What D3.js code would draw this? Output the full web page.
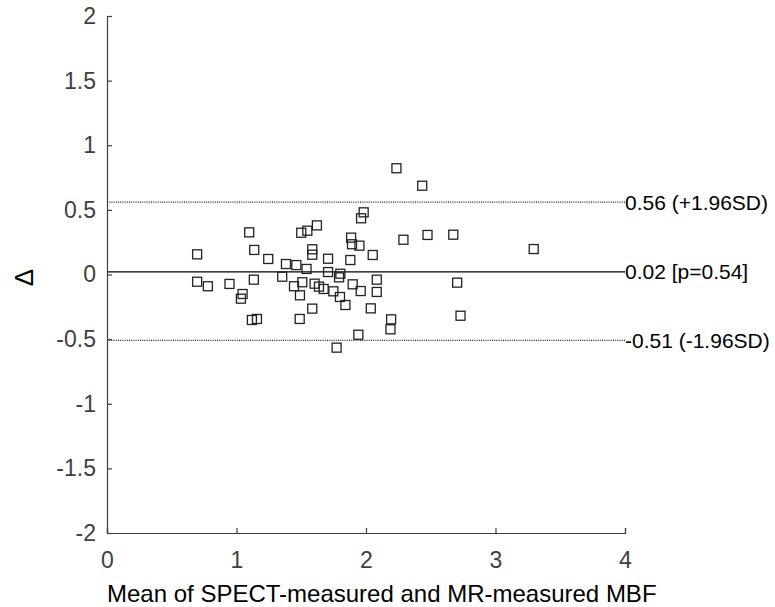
<!DOCTYPE html>
<html>
<head>
<meta charset="utf-8">
<script src="https://cdn.jsdelivr.net/npm/d3@7"></script>
<style>
  body { margin: 0; background: #fff; }
  text { font-family: "Liberation Sans", Arial, sans-serif; }
</style>
</head>
<body>
<div id="chart"></div>
<script>
var w = 775,
  h = 607;
var margin = { left: 107, top: 16, right: 150, bottom: 74 };

// mean of the two measurements (x) and their difference (y)
var meanMBF = [
  0.696, 0.696, 0.779, 0.946, 1.047, 1.034, 1.098, 1.137, 1.134, 1.119,
  1.158, 1.245, 1.353, 1.382, 1.462, 1.444, 1.508, 1.490, 1.488, 1.500,
  1.547, 1.621, 1.585, 1.585, 1.541, 1.603, 1.637, 1.673, 1.585, 1.707,
  1.707, 1.748, 1.773, 2.235, 2.434, 1.982, 1.962, 1.885, 1.892, 1.949,
  2.289, 2.475, 2.674, 3.295, 2.052, 1.879, 1.802, 1.792, 2.083, 1.897,
  1.959, 2.083, 2.704, 2.730, 1.799, 1.841, 2.037, 2.194, 2.189, 1.941
];
var diffMBF = [
  0.156, -0.056, -0.091, -0.073, -0.151, -0.187, 0.326, 0.190, -0.040, -0.352,
  -0.344, 0.120, -0.017, 0.081, 0.073, -0.091, -0.060, -0.161, -0.344, 0.323,
  0.339, 0.380, 0.195, 0.153, 0.043, -0.071, -0.094, -0.112, -0.264, 0.122,
  0.019, -0.130, -0.566, 0.822, 0.687, 0.481, 0.435, 0.285, 0.234, 0.223,
  0.269, 0.306, 0.308, 0.197, 0.151, 0.112, 0.006, -0.022, -0.040, -0.076,
  -0.128, -0.135, -0.063, -0.319, -0.174, -0.236, -0.262, -0.347, -0.424, -0.466
];

var xTicks = [0, 1, 2, 3, 4];
var yTicks = [2, 1.5, 1, 0.5, 0, -0.5, -1, -1.5, -2];

var refLines = [
  { value: 0.56, label: "0.56 (+1.96SD)", dotted: true },
  { value: 0.02, label: "0.02 [p=0.54]", dotted: false },
  { value: -0.51, label: "-0.51 (-1.96SD)", dotted: true }
];

var width = w - margin.left - margin.right,
  height = h - margin.top - margin.bottom;

var svg = d3
  .select("#chart")
  .append("svg")
  .attr("width", w)
  .attr("height", h)
  .append("g")
  .attr("transform", `translate(${margin.left}, ${margin.top})`);

var x = d3.scaleLinear().domain([0, 4]).range([0, 518]);
var y = d3.scaleLinear().domain([-2, 2]).range([517, 0]);

var axisColor = "#404040";

// reference lines
refLines.forEach((d) => {
  svg
    .append("line")
    .attr("x1", 0)
    .attr("x2", x(4))
    .attr("y1", y(d.value))
    .attr("y2", y(d.value))
    .attr("stroke", d.dotted ? "#222" : "#000")
    .attr("stroke-width", d.dotted ? 1.1 : 1.4)
    .attr("stroke-dasharray", d.dotted ? "1,1.2" : null);
  svg
    .append("text")
    .attr("x", x(4))
    .attr("y", y(d.value))
    .attr("dy", "0.36em")
    .attr("font-size", 21)
    .attr("fill", "#000")
    .text(d.label);
});

// points
svg
  .selectAll(".pt")
  .data(d3.range(meanMBF.length))
  .enter()
  .append("rect")
  .attr("class", "pt")
  .attr("x", (i) => x(meanMBF[i]) - 4.5)
  .attr("y", (i) => y(diffMBF[i]) - 4.5)
  .attr("width", 9)
  .attr("height", 9)
  .attr("fill", "none")
  .attr("stroke", "#222")
  .attr("stroke-width", 1.3);

// axes (ticks pointing inward)
var xAxis = svg
  .append("g")
  .attr("transform", `translate(0, ${y(-2)})`)
  .call(d3.axisBottom(x).tickValues(xTicks).tickFormat(d3.format("d")).tickSizeInner(-5).tickSizeOuter(-5).tickPadding(19));

var yAxis = svg
  .append("g")
  .call(d3.axisLeft(y).tickValues(yTicks).tickFormat((d) => String(d)).tickSizeInner(-5).tickSizeOuter(-5).tickPadding(11));

[xAxis, yAxis].forEach((g) => {
  g.select(".domain").attr("stroke", axisColor).attr("stroke-width", 1.2);
  g.selectAll(".tick line").attr("stroke", axisColor).attr("stroke-width", 1.2);
  g.selectAll(".tick text")
    .attr("fill", axisColor)
    .attr("font-size", 23)
    .style("font-family", "'Liberation Sans', Arial, sans-serif");
});

// axis labels
svg
  .append("text")
  .attr("x", 0)
  .attr("y", y(-2) + 69)
  .attr("text-anchor", "start")
  .attr("font-size", 24)
  .attr("fill", "#000")
  .text("Mean of SPECT-measured and MR-measured MBF");

svg
  .append("text")
  .attr("transform", `translate(${-74}, ${y(0) + 3})rotate(-90)`)
  .attr("text-anchor", "middle")
  .attr("font-size", 26)
  .attr("fill", "#000")
  .text("Δ");
</script>
</body>
</html>
